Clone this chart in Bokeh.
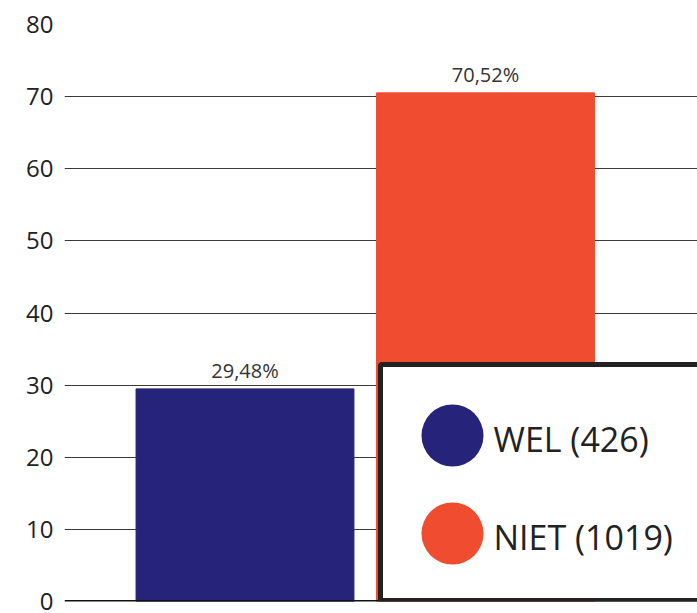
from bokeh.plotting import figure
from bokeh.models import (ColumnDataSource, FixedTicker, LabelSet, Span, BoxAnnotation, Node, Range1d)
from bokeh.core.properties import value
from bokeh.embed import file_html
from bokeh.resources import INLINE

categories = ["WEL", "NIET"]
percentages = [29.48, 70.52]
counts = [426, 1019]
colors = ["#26237A", "#EF4C30"]
y_ticks = [0, 10, 20, 30, 40, 50, 60, 70, 80]

FONT = "Open Sans"

# layout (pixels)
W, H = 697, 613
BL, BT, BR, BB = 64, 24, 0, 12
FW, FH = W - BL - BR, H - BT - BB
X0, X1 = 0.2495, 0.2495 + FW / 240.5
Y0, Y1 = 0, 80


def px_x(px):
    return X0 + (px - BL) / FW * (X1 - X0)


def px_y(py):
    return Y0 + (H - BB - py) / FH * (Y1 - Y0)


x = [i + 1 for i in range(len(categories))]
labels = [f"{v:.2f}".replace(".", ",") + "%" for v in percentages]
source = ColumnDataSource(dict(x=x, top=percentages, color=colors, label=labels))

p = figure(width=W, height=H, output_backend="svg", toolbar_location=None,
           x_range=Range1d(X0, X1), y_range=Range1d(Y0, Y1),
           x_axis_location=None,
           min_border_left=BL, min_border_top=BT, min_border_bottom=BB, min_border_right=BR)
p.outline_line_color = None
p.background_fill_color = "white"

p.vbar(x="x", top="top", width=0.906, color="color", source=source)

p.xgrid.visible = False
p.ygrid.ticker = FixedTicker(ticks=y_ticks)
p.ygrid.grid_line_color = "#3a3a3a"
p.ygrid.grid_line_width = 1

ax = p.yaxis[0]
ax.ticker = FixedTicker(ticks=y_ticks)
ax.axis_line_color = None
ax.major_tick_line_color = None
ax.minor_tick_line_color = None
ax.major_tick_out = 0
ax.major_tick_in = 0
ax.major_label_standoff = 11
ax.major_label_text_font = FONT
ax.major_label_text_font_size = "24px"
ax.major_label_text_color = "#222222"

p.add_layout(Span(location=0, dimension="width", line_color="#111111", line_width=3))

p.add_layout(LabelSet(x="x", y="top", text="label", source=source, text_align="center",
                      text_baseline="alphabetic", y_offset=11, text_font=value(FONT),
                      text_font_size="20px", text_color="#333333"))

# legend box
box = BoxAnnotation(left=Node(target="frame", symbol="left", offset=316),
                    right=Node(target="canvas", symbol="right", offset=10),
                    top=Node(target="frame", symbol="bottom", offset=-237),
                    bottom=Node(target="frame", symbol="bottom", offset=-1),
                    fill_color="white", fill_alpha=1.0,
                    line_color="#222222", line_width=5, line_alpha=1.0)
p.add_layout(box)

# legend entries (positions in pixels, converted to data space)
leg_cy = [435, 533]
leg_src = ColumnDataSource(dict(
    cx=[px_x(452)] * len(categories),
    cy=[px_y(v) for v in leg_cy],
    tx=[px_x(493)] * len(categories),
    ty=[px_y(v + 3) for v in leg_cy],
    color=colors,
    label=[f"{c} ({n})" for c, n in zip(categories, counts)],
))
p.scatter(x="cx", y="cy", size=62, marker="circle", fill_color="color",
          line_color=None, source=leg_src, level="overlay")
p.text(x="tx", y="ty", text="label", source=leg_src, text_font=value(FONT),
       text_font_size="34px", text_color="#222222", text_baseline="middle",
       text_align="left", level="overlay")

open("out.html", "w").write(file_html(p, INLINE))
